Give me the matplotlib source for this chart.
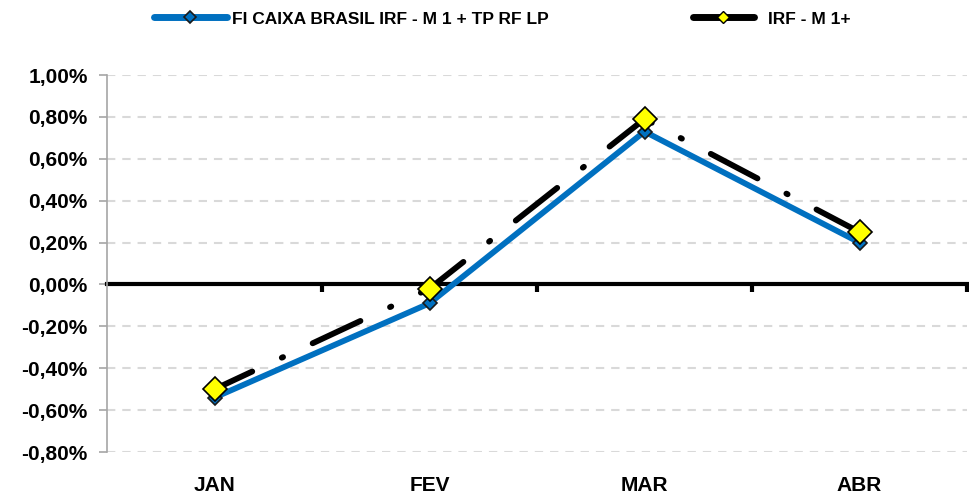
import matplotlib.pyplot as plt
import matplotlib.transforms as mtransforms
from matplotlib.lines import Line2D
import numpy as np

plt.rcParams['font.family'] = ['Liberation Sans', 'DejaVu Sans']
plt.rcParams['font.weight'] = 'bold'
plt.rcParams['lines.scale_dashes'] = False

# dados (em %)
meses = ["JAN", "FEV", "MAR", "ABR"]
fundo = [-0.54, -0.09, 0.73, 0.20]
indice = [-0.50, -0.02, 0.79, 0.25]
nome_fundo = "FI CAIXA BRASIL IRF - M 1 + TP RF LP"
nome_indice = "IRF - M 1+"

fig = plt.figure(figsize=(9.69, 4.98), dpi=100)
ax = fig.add_axes([107/969, 46/498, 860/969, 377/498])

x = np.arange(len(meses))
ax.plot(x, fundo, color='#0070C0', linewidth=4.2, solid_capstyle='round',
        marker='D', markersize=7, markerfacecolor='#0070C0',
        markeredgecolor='#1a1a1a', markeredgewidth=1.2, zorder=3)
ax.plot(x, indice, color='black', linewidth=4.2, dash_capstyle='round',
        linestyle=(8, (38, 23.5, 1, 23.5)),
        marker='D', markersize=12, markerfacecolor='#FFFF00',
        markeredgecolor='black', markeredgewidth=1.2, zorder=4)

yt = np.arange(-0.8, 1.01, 0.2)
ax.set_xlim(-0.5, 3.5)
ax.set_ylim(-0.8, 1.0)
ax.set_yticks(yt)
ax.set_yticklabels([("%.2f%%" % (0 if abs(v) < 1e-9 else v)).replace('.', ',') for v in yt],
                   fontsize=15)
for v in yt:
    if abs(v) > 1e-9:
        ax.axhline(v, color='#D9D9D9', linewidth=1.5, linestyle=(0, (6, 5)), zorder=1)

ax.spines['top'].set_visible(False)
ax.spines['right'].set_visible(False)
ax.spines['left'].set_color('#A6A6A6')
ax.spines['left'].set_linewidth(1.2)
ax.spines['bottom'].set_position(('data', 0))
ax.spines['bottom'].set_linewidth(3)
ax.spines['bottom'].set_zorder(2)
ax.tick_params(axis='y', length=6, width=1.2, color='#A6A6A6', pad=8)

ax.set_xticks(x)
ax.set_xticklabels([])
ax.tick_params(axis='x', which='major', length=0)
ax.set_xticks(np.arange(0.5, 4, 1), minor=True)
ax.tick_params(axis='x', which='minor', length=6, width=3, color='black')

trans = mtransforms.blended_transform_factory(ax.transData, ax.transAxes)
for xi, m in zip(x, meses):
    ax.text(xi, -0.09, m, transform=trans, ha='center', va='center', fontsize=15)

h1 = Line2D([], [], color='#0070C0', linewidth=5, solid_capstyle='round', marker='D',
            markersize=6, markerfacecolor='#0070C0', markeredgecolor='#1a1a1a',
            markeredgewidth=1.2)
h2 = Line2D([], [], color='black', linewidth=5, solid_capstyle='round', marker='D',
            markersize=6, markerfacecolor='#FFFF00', markeredgecolor='black',
            markeredgewidth=1)
leg1 = fig.legend([h1], [nome_fundo], loc='center left', bbox_to_anchor=(154/969, 0.962),
                  frameon=False, fontsize=12.5, handlelength=4.2, handletextpad=0.3,
                  borderpad=0, borderaxespad=0)
leg2 = fig.legend([h2], [nome_indice], loc='center left', bbox_to_anchor=(693/969, 0.962),
                  frameon=False, fontsize=12.5, handlelength=3.5, handletextpad=0.8,
                  borderpad=0, borderaxespad=0)

fig.savefig("out.png", dpi=100)
